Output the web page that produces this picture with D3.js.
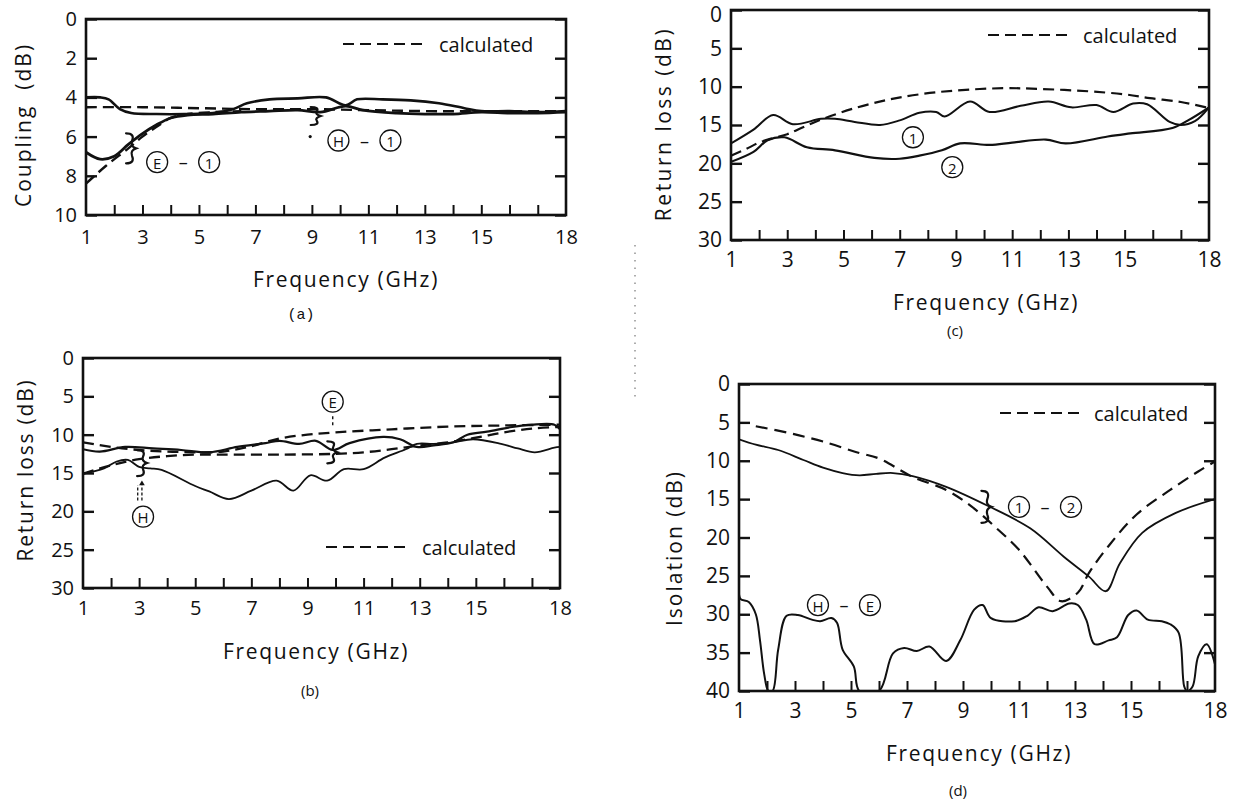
<!DOCTYPE html>
<html>
<head>
<meta charset="utf-8">
<script src="https://cdn.jsdelivr.net/npm/d3@7"></script>
<style>
    body { margin: 0; background: #fff; }
    svg { display: block; font-family: "Open Sans", sans-serif; }
</style>
</head>
<body>
<svg id="fig" width="1243" height="800"></svg>
<script>
// Frequency axis (shared by all four plots)
const freqLabels = [1, 3, 5, 7, 9, 11, 13, 15, 18];
const freqMinor = [2, 3, 4, 5, 6, 7, 8, 9, 10, 11, 12, 13, 14, 15, 16, 17];

// Value axes
const couplingTicks = [0, 2, 4, 6, 8, 10];
const returnTicks = [0, 5, 10, 15, 20, 25, 30];
const isolationTicks = [0, 5, 10, 15, 20, 25, 30, 35, 40];

// (a) Coupling (dB) - [GHz, dB]
const couplingCalcH = [[1, 4.5], [3, 4.5], [5, 4.55], [7, 4.6], [9, 4.6], [11, 4.65], [13, 4.7], [15, 4.7], [18, 4.7]];
const couplingCalcE = [[1, 8.4], [1.7, 7.5], [2.5, 6.6], [3, 6.0], [3.5, 5.5], [4, 5.05], [4.6, 4.85], [5.5, 4.75], [6.5, 4.7]];
const couplingMeasH = [[1, 4.0], [1.5, 4.0], [1.8, 4.1], [2.2, 4.6], [2.6, 4.8], [3.5, 4.85], [4.5, 4.85], [5.5, 4.8],
    [6.2, 4.6], [6.7, 4.3], [7.5, 4.1], [8.5, 4.05], [9.5, 4.0], [10.2, 4.4], [10.6, 4.1], [11.5, 4.1], [12.5, 4.15],
    [13.5, 4.3], [14.4, 4.55], [15, 4.7], [16, 4.7], [17, 4.75], [18, 4.7]];
const couplingMeasE = [[1, 6.8], [1.5, 7.15], [2, 7.0], [2.5, 6.4], [3, 5.85], [3.5, 5.4], [4, 5.05], [4.6, 4.9],
    [5.5, 4.85], [6.5, 4.75], [7.5, 4.7], [8.5, 4.65], [9.3, 4.75], [10.2, 4.45], [10.8, 4.65], [12, 4.8], [13, 4.85],
    [14, 4.85], [15, 4.75], [16, 4.8], [17, 4.8], [18, 4.75]];

// (b) Return loss of the E and H arms (dB)
const armCalcE = [[1, 11.0], [2, 11.6], [3, 12.0], [4, 12.2], [5, 12.3], [6, 12.2], [7, 11.5], [8, 10.5], [9, 10.0],
    [10, 9.7], [12, 9.3], [14, 8.95], [16, 8.8], [18, 8.7]];
const armCalcH = [[1, 15.1], [2, 14.0], [3, 13.2], [4, 12.8], [5, 12.6], [6, 12.6], [8, 12.6], [10, 12.5], [11, 12.3],
    [12, 11.9], [13, 11.4], [14, 11.0], [15, 10.4], [16, 9.7], [17, 9.2], [18, 9.0]];
const armMeasE = [[1, 11.9], [1.6, 12.2], [2.5, 11.6], [3.5, 11.8], [4.5, 12.0], [5.5, 12.3], [6.5, 11.6], [7.5, 11.1],
    [8, 10.8], [8.7, 11.2], [9.3, 10.8], [9.9, 12.0], [10.5, 11.1], [11.7, 10.3], [12.3, 10.6], [12.9, 11.6],
    [13.5, 11.4], [14.2, 11.0], [14.7, 10.0], [15.4, 9.6], [16.3, 9.0], [17, 8.7], [17.8, 8.7], [18, 9.3]];
const armMeasH = [[1, 15.1], [1.75, 14.4], [2.2, 13.5], [2.6, 13.3], [3.0, 14.2], [3.4, 14.4], [3.8, 14.6], [5, 16.7],
    [5.5, 17.4], [6.2, 18.4], [7.0, 17.3], [7.9, 16.0], [8.5, 17.3], [9.1, 15.3], [9.7, 16.0], [10.3, 14.5],
    [11.0, 14.5], [11.75, 13.0], [12.5, 11.9], [12.9, 11.2], [13.5, 11.2], [14.2, 11.0], [14.9, 10.6], [15.9, 11.2],
    [16.5, 11.8], [17.1, 12.3], [17.8, 11.7], [18, 11.6]];

// (c) Return loss of ports 1 and 2 (dB)
const portCalc = [[1, 19.0], [1.5, 18.2], [2, 17.3], [2.5, 16.7], [3, 16.2], [3.5, 15.4], [4.2, 14.3], [5.4, 12.8],
    [6.6, 11.7], [7.7, 11.0], [9, 10.5], [10.7, 10.2], [12, 10.3], [13.7, 10.6], [15, 11.0], [15.9, 11.5],
    [17, 12.0], [17.9, 12.7]];
const port1 = [[1, 17.4], [1.8, 15.6], [2.5, 13.7], [3.2, 14.9], [4.2, 14.2], [4.7, 14.2], [5.4, 14.6], [6.3, 15.0],
    [7, 14.4], [7.7, 13.4], [8.3, 13.3], [8.6, 13.9], [9.5, 11.95], [10.2, 13.3], [11.3, 12.5], [12.3, 11.95],
    [13.1, 12.7], [14, 12.4], [14.6, 13.3], [15.3, 12.2], [15.8, 12.3], [16.6, 14.6], [17, 15.0], [17.5, 14.5], [18, 12.7]];
const port2 = [[1, 19.8], [1.8, 18.5], [2.3, 17.0], [2.9, 16.6], [3.7, 17.9], [4.7, 18.3], [6.1, 19.3], [7, 19.4],
    [7.7, 19.0], [8.5, 18.3], [9.15, 17.4], [10.2, 17.6], [11, 17.3], [12.2, 16.9], [12.9, 17.4], [14.4, 16.5],
    [15.2, 16.1], [16.7, 15.4], [17.3, 14.3], [18, 12.7]];

// (d) Isolation (dB)
const isoCalc = [[1.6, 5.5], [2.8, 6.4], [4.0, 7.5], [5.3, 9.0], [6.0, 9.7], [7.2, 12.1], [8.4, 13.8], [9.3, 15.95],
    [10.2, 18.8], [11.0, 21.6], [12.0, 26.4], [12.5, 28.3], [13.1, 27.2], [13.5, 24.6], [14.2, 21.1], [15.2, 17.0],
    [16.4, 13.8], [17.4, 11.4], [18, 10.1]];
const isoPorts = [[1, 7.2], [1.6, 7.9], [2.4, 8.6], [3.3, 9.9], [4.0, 10.9], [4.7, 11.6], [5.3, 11.9], [5.9, 11.7],
    [6.5, 11.6], [7.2, 12.0], [8.4, 13.4], [9.9, 15.9], [11.4, 18.8], [12.6, 22.5], [13.5, 25.1], [14.1, 27.0],
    [14.6, 23.4], [15.4, 19.4], [16.6, 16.8], [18, 15.0]];
const isoArms = [[1, 26.2], [1.05, 28.0], [1.35, 28.4], [1.6, 30], [1.75, 33.4], [1.9, 37.8], [2.05, 40], [2.2, 40],
    [2.4, 34.6], [2.7, 30.2], [3.1, 30.1], [3.6, 30.7], [3.9, 30.9], [4.3, 30.5], [4.5, 31.1], [4.7, 34.6],
    [5.1, 36.8], [5.3, 40], [6.0, 40], [6.5, 35.1], [6.9, 34.4], [7.35, 34.8], [7.8, 34.2], [8.4, 36.1], [8.9, 33.4],
    [9.4, 29.4], [9.7, 28.8], [10.0, 30.5], [10.85, 30.9], [11.3, 30.2], [11.7, 29.1], [12.2, 29.6], [12.8, 28.6],
    [13.1, 28.8], [13.4, 30.7], [13.7, 33.9], [14.2, 33.4], [14.5, 33.0], [14.9, 30.1], [15.2, 29.5], [15.6, 30.7],
    [16.1, 30.9], [16.4, 31.3], [16.7, 32.4], [16.9, 39.4], [17.0, 40], [17.2, 39.4], [17.4, 35.5], [17.7, 33.9],
    [18.0, 36.5]];

const INK = "#111";
const svg = d3.select("#fig");

// Draw one framed plot, returns its scales
function drawPanel(p) {
    const g = svg.append("g");
    const x = d3.scaleLinear().domain([1, 18]).range([p.left, p.right]);
    const y = d3.scaleLinear().domain([0, p.yMax]).range([p.top, p.bottom]);

    svg.append("clipPath").attr("id", "clip-" + p.tag)
        .append("rect")
        .attr("x", p.left).attr("y", p.top)
        .attr("width", p.right - p.left).attr("height", p.bottom - p.top);

    // inner ticks along the bottom
    g.append("g")
        .attr("transform", `translate(0,${p.bottom})`)
        .call(d3.axisBottom(x).tickValues(freqMinor).tickSize(-10).tickFormat(""))
        .call(s => s.select(".domain").remove())
        .selectAll("line").attr("stroke", INK).attr("stroke-width", 2);

    // frequency labels
    g.append("g")
        .attr("transform", `translate(0,${p.bottom})`)
        .call(d3.axisBottom(x).tickValues(freqLabels).tickSize(0).tickPadding(p.xPad))
        .call(s => s.select(".domain").remove())
        .selectAll("text")
        .attr("font-size", p.fs).attr("font-family", "Open Sans").attr("fill", INK);

    // inner ticks left and right
    g.append("g")
        .attr("transform", `translate(${p.left},0)`)
        .call(d3.axisLeft(y).tickValues(p.yTicks).tickSize(-11).tickFormat(""))
        .call(s => s.select(".domain").remove())
        .selectAll("line").attr("stroke", INK).attr("stroke-width", 2.4);
    g.append("g")
        .attr("transform", `translate(${p.right},0)`)
        .call(d3.axisRight(y).tickValues(p.yTicks).tickSize(-11).tickFormat(""))
        .call(s => s.select(".domain").remove())
        .selectAll("line").attr("stroke", INK).attr("stroke-width", 2.4);

    // value labels
    const yl = g.append("g")
        .attr("transform", `translate(${p.left},0)`)
        .call(d3.axisLeft(y).tickValues(p.yTicks).tickSize(0).tickPadding(9))
        .call(s => s.select(".domain").remove());
    yl.selectAll("text")
        .attr("font-size", p.fs).attr("font-family", "Open Sans").attr("fill", INK);
    if (p.topNudge) yl.selectAll("text").filter(d => d === 0).attr("dy", p.topNudge);

    // frame
    g.append("rect")
        .attr("x", p.left).attr("y", p.top)
        .attr("width", p.right - p.left).attr("height", p.bottom - p.top)
        .attr("fill", "none").attr("stroke", INK).attr("stroke-width", 2.6);

    // curves
    const line = d3.line()
        .x(d => x(d[0]))
        .y(d => y(d[1]))
        .curve(d3.curveCatmullRom.alpha(0.5));

    p.series.forEach(s => {
        g.append("path")
            .attr("clip-path", `url(#clip-${p.tag})`)
            .attr("d", line(s.data))
            .attr("fill", "none")
            .attr("stroke", INK)
            .attr("stroke-width", s.w)
            .attr("stroke-linejoin", "round")
            .attr("stroke-linecap", s.dash ? "butt" : "round")
            .attr("stroke-dasharray", s.dash || null);
    });

    // axis titles
    g.append("text")
        .attr("transform", `translate(${p.yTitle[0]},${p.yTitle[1]}) rotate(-90)`)
        .attr("text-anchor", "middle")
        .attr("dominant-baseline", "central")
        .attr("font-size", 21)
        .attr("letter-spacing", p.yTitle[3])
        .attr("fill", INK)
        .style("white-space", "pre")
        .text(p.yTitle[2]);

    g.append("text")
        .attr("x", p.xTitle[0]).attr("y", p.xTitle[1])
        .attr("text-anchor", "middle")
        .attr("dominant-baseline", "central")
        .attr("font-size", 21)
        .attr("letter-spacing", 1.7)
        .attr("fill", INK)
        .text("Frequency (GHz)");

    g.append("text")
        .attr("x", p.label[0]).attr("y", p.label[1])
        .attr("text-anchor", "middle")
        .attr("dominant-baseline", "central")
        .attr("font-size", 15)
        .attr("font-family", p.tag === "a" ? "Liberation Mono" : "Open Sans")
        .attr("fill", INK)
        .text(`(${p.tag})`);

    // legend
    if (p.legend) {
        const [lx1, lx2, ly] = p.legend;
        g.append("line")
            .attr("x1", lx1).attr("x2", lx2).attr("y1", ly).attr("y2", ly)
            .attr("stroke", INK).attr("stroke-width", 2).attr("stroke-dasharray", "11,6");
        g.append("text")
            .attr("x", lx2 + 11).attr("y", ly)
            .attr("dominant-baseline", "central")
            .attr("font-size", 20)
            .attr("fill", INK)
            .text("calculated");
    }
    return { g, x, y };
}

// circled port / arm names, centred at a data position
function circled(panel, cx, cy, ch) {
    panel.g.append("circle")
        .attr("cx", cx).attr("cy", cy).attr("r", 10.5)
        .attr("fill", "none").attr("stroke", INK).attr("stroke-width", 1.3);
    panel.g.append("text")
        .attr("x", cx).attr("y", cy + 0.5)
        .attr("text-anchor", "middle")
        .attr("dominant-baseline", "central")
        .attr("font-size", 15)
        .attr("fill", INK)
        .text(ch);
}
function mark(panel, f, v, ch) {
    circled(panel, panel.x(f), panel.y(v), ch);
}
function pair(panel, f, v, a, b) {
    const cx = panel.x(f), cy = panel.y(v);
    circled(panel, cx, cy, a);
    panel.g.append("text")
        .attr("x", cx + 26).attr("y", cy)
        .attr("text-anchor", "middle")
        .attr("dominant-baseline", "central")
        .attr("font-size", 18)
        .attr("fill", INK)
        .text("–");
    circled(panel, cx + 52, cy, b);
}
// hand-drawn brace pointing to a curve
function brace(panel, f, v, h) {
    const p = d3.path();
    p.moveTo(-4, -h / 2);
    p.quadraticCurveTo(5, -h / 2, 2, -h / 4);
    p.quadraticCurveTo(0, -2, 6, 0);
    p.quadraticCurveTo(0, 2, 2, h / 4);
    p.quadraticCurveTo(5, h / 2, -4, h / 2);
    panel.g.append("path")
        .attr("d", p.toString())
        .attr("transform", `translate(${panel.x(f)},${panel.y(v)})`)
        .attr("fill", "none").attr("stroke", INK).attr("stroke-width", 2.2)
        .attr("stroke-linecap", "round");
}

const pa = drawPanel({
    tag: "a", left: 86, right: 566, top: 19, bottom: 215, yMax: 10,
    yTicks: couplingTicks, fs: 20, xPad: 15,
    yTitle: [23, 125, "Coupling  (dB)", 2], xTitle: [346, 279], label: [301, 315],
    legend: [343, 428, 44],
    series: [
        { data: couplingCalcH, w: 2.4, dash: "11,6" },
        { data: couplingCalcE, w: 2.4, dash: "11,6" },
        { data: couplingMeasH, w: 2.6 },
        { data: couplingMeasE, w: 2.8 }
    ]
});
pair(pa, 3.52, 7.3, "E", "1");
pair(pa, 9.94, 6.2, "H", "1");
brace(pa, 2.56, 6.6, 30);
brace(pa, 9.1, 4.95, 18);
pa.g.append("circle").attr("cx", pa.x(8.94)).attr("cy", pa.y(6.0)).attr("r", 1.6).attr("fill", INK);

const pb = drawPanel({
    tag: "b", left: 83, right: 560, top: 358, bottom: 588, yMax: 30,
    yTicks: returnTicks, fs: 20, xPad: 13,
    yTitle: [25, 470, "Return loss (dB)", 1.8], xTitle: [316, 651], label: [310, 690],
    legend: [326, 411, 547],
    series: [
        { data: armCalcE, w: 2.3, dash: "11,6" },
        { data: armCalcH, w: 2.3, dash: "11,6" },
        { data: armMeasE, w: 2.2 },
        { data: armMeasH, w: 1.8 }
    ]
});
mark(pb, 9.9, 5.7, "E");
mark(pb, 3.14, 20.7, "H");
brace(pb, 9.85, 12.3, 22);
brace(pb, 3.07, 13.7, 26);
pb.g.append("line")
    .attr("x1", pb.x(9.9)).attr("x2", pb.x(9.9))
    .attr("y1", pb.y(7.6)).attr("y2", pb.y(9.0))
    .attr("stroke", INK).attr("stroke-width", 1.4).attr("stroke-dasharray", "3,3");
[2.95, 3.1].forEach(f => {
    pb.g.append("line")
        .attr("x1", pb.x(f)).attr("x2", pb.x(f))
        .attr("y1", pb.y(18.6)).attr("y2", pb.y(16.6))
        .attr("stroke", INK).attr("stroke-width", 1.3).attr("stroke-dasharray", "3,2");
});
pb.g.append("path")
    .attr("d", d3.symbol(d3.symbolTriangle, 14)())
    .attr("transform", `translate(${pb.x(3.1)},${pb.y(16.4)})`)
    .attr("fill", INK);

const pc = drawPanel({
    tag: "c", left: 731, right: 1209, top: 10, bottom: 240, yMax: 30,
    yTicks: returnTicks, fs: 21, xPad: 12, topNudge: "0.55em",
    yTitle: [663, 124, "Return loss (dB)", 2.5], xTitle: [986, 302], label: [955, 330],
    legend: [988, 1072, 35],
    series: [
        { data: portCalc, w: 2.2, dash: "11,6" },
        { data: port1, w: 2 },
        { data: port2, w: 2.2 }
    ]
});
mark(pc, 7.47, 16.6, "1");
mark(pc, 8.87, 20.5, "2");

const pd = drawPanel({
    tag: "d", left: 739, right: 1215, top: 384, bottom: 691, yMax: 40,
    yTicks: isolationTicks, fs: 21, xPad: 12,
    yTitle: [674, 548, "Isolation (dB)", 2], xTitle: [979, 753], label: [958, 790],
    legend: [1000, 1083, 413],
    series: [
        { data: isoCalc, w: 2.2, dash: "12,7" },
        { data: isoPorts, w: 1.8 },
        { data: isoArms, w: 2 }
    ]
});
pair(pd, 11.0, 16.0, "1", "2");
pair(pd, 3.82, 28.8, "H", "E");
brace(pd, 9.8, 16.0, 32);

// faint dotted scan mark between the columns
svg.append("line")
    .attr("x1", 635).attr("x2", 635).attr("y1", 245).attr("y2", 398)
    .attr("stroke", "#777").attr("stroke-width", 1.2).attr("stroke-dasharray", "1.5,6");
</script>
</body>
</html>
